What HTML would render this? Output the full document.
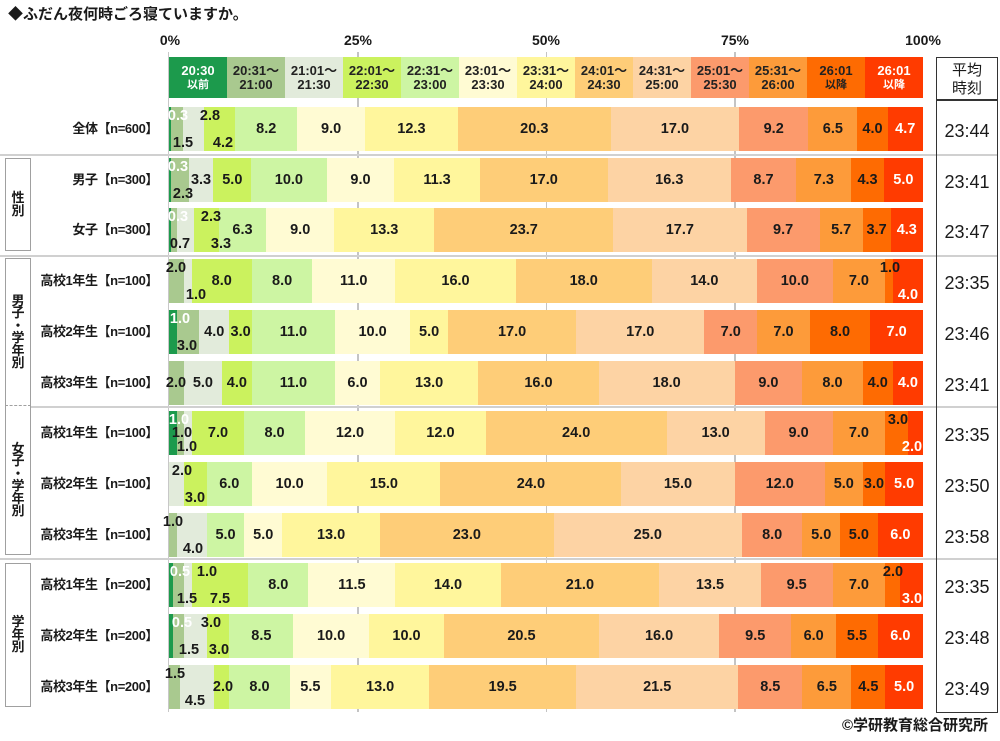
<!DOCTYPE html>
<html><head><meta charset="utf-8">
<style>
*{margin:0;padding:0;box-sizing:border-box}
body{width:1000px;height:741px;background:#fff;position:relative;overflow:hidden;font-family:"Liberation Sans","Noto Sans CJK JP",sans-serif;color:#1a1a1a}
.a{position:absolute}
.row{position:absolute;left:169px;width:754px;height:44px}
.s{position:absolute;top:0;height:44px;display:flex;align-items:center;justify-content:center;white-space:nowrap;font-size:14.5px;font-weight:bold;color:#1a1a1a}
.l{position:absolute;transform:translateX(-50%);font-size:14.5px;font-weight:bold;color:#1a1a1a;line-height:16px;white-space:nowrap}
.t{top:1px}.b{top:28px}.m{top:14px}
.w{color:#fff !important}
.c0{background:#1c9a4c;box-shadow:1px 0 0 #1c9a4c}.c1{background:#a9c98f;box-shadow:1px 0 0 #a9c98f}.c2{background:#e2ebdb;box-shadow:1px 0 0 #e2ebdb}.c3{background:#cbf25e;box-shadow:1px 0 0 #cbf25e}.c4{background:#cdf5a3;box-shadow:1px 0 0 #cdf5a3}.c5{background:#fffbd3;box-shadow:1px 0 0 #fffbd3}.c6{background:#fff69c;box-shadow:1px 0 0 #fff69c}.c7{background:#fecd78;box-shadow:1px 0 0 #fecd78}.c8{background:#fdd3a4;box-shadow:1px 0 0 #fdd3a4}.c9{background:#fc9a6c;box-shadow:1px 0 0 #fc9a6c}.c10{background:#fd9b3a;box-shadow:1px 0 0 #fd9b3a}.c11{background:#fe6b02;box-shadow:1px 0 0 #fe6b02}.c12{background:#ff3b00}
.h{position:absolute;top:57px;height:41px;width:58px;display:flex;flex-direction:column;align-items:center;justify-content:center;font-size:13px;font-weight:bold;line-height:14px;color:#222;white-space:nowrap}
.h small{font-size:11px}
.lab{position:absolute;right:842px;height:44px;line-height:44px;font-size:13px;font-weight:bold;letter-spacing:-0.4px;white-space:nowrap;text-align:right}
.tm{position:absolute;left:936px;width:62px;text-align:center;font-size:18px;line-height:20px;color:#1a1a1a}
.pct{position:absolute;top:32px;font-size:14px;font-weight:bold;transform:translateX(-50%);line-height:16px}
.gbox{position:absolute;left:5px;width:26px;border:1px solid #a0a0a0;display:flex;align-items:center;justify-content:center}
.vt{display:block;text-align:center;font-size:13px;font-weight:bold;line-height:12.5px;width:26px}
.hl{position:absolute;height:1.5px;background:#d0d0d0}
.vl{position:absolute;width:1.5px;background:#c4c4c4;top:52px;height:660px}
</style></head><body>

<div class="a" style="left:8px;top:5px;font-size:15px;font-weight:bold;line-height:20px;white-space:nowrap">◆ふだん夜何時ごろ寝ていますか。</div>

<div class="pct" style="left:170px">0%</div>
<div class="pct" style="left:358px">25%</div>
<div class="pct" style="left:546px">50%</div>
<div class="pct" style="left:735px">75%</div>
<div class="pct" style="left:923px">100%</div>

<!-- grid -->
<div class="vl" style="left:167.5px;background:#c8c8c8;width:1px"></div>
<div class="vl" style="left:357px"></div>
<div class="vl" style="left:545.5px"></div>
<div class="vl" style="left:734px"></div>
<div class="hl" style="left:0;width:998px;top:154px"></div>
<div class="hl" style="left:0;width:998px;top:255px"></div>
<div class="hl" style="left:31px;width:967px;top:406px"></div>
<div class="hl" style="left:0;width:998px;top:558px"></div>

<!-- header -->
<div class="h c0" style="left:169px;color:#fff">20:30<small>以前</small></div>
<div class="h c1" style="left:227px">20:31～<span>21:00</span></div>
<div class="h c2" style="left:285px">21:01～<span>21:30</span></div>
<div class="h c3" style="left:343px">22:01～<span>22:30</span></div>
<div class="h c4" style="left:401px">22:31～<span>23:00</span></div>
<div class="h c5" style="left:459px">23:01～<span>23:30</span></div>
<div class="h c6" style="left:517px">23:31～<span>24:00</span></div>
<div class="h c7" style="left:575px">24:01～<span>24:30</span></div>
<div class="h c8" style="left:633px">24:31～<span>25:00</span></div>
<div class="h c9" style="left:691px">25:01～<span>25:30</span></div>
<div class="h c10" style="left:749px">25:31～<span>26:00</span></div>
<div class="h c11" style="left:807px">26:01<small>以降</small></div>
<div class="h c12" style="left:865px;color:#fff">26:01<small>以降</small></div>

<!-- group boxes -->
<div class="gbox" style="top:158px;height:93px"><span class="vt">性<br>別</span></div>
<div class="gbox" style="top:258px;height:148px;border-bottom:1px dashed #a0a0a0"><span class="vt">男<br>子<br>・<br>学<br>年<br>別</span></div>
<div class="gbox" style="top:406px;height:149px;border-top:none"><span class="vt">女<br>子<br>・<br>学<br>年<br>別</span></div>
<div class="gbox" style="top:563px;height:144px"><span class="vt">学<br>年<br>別</span></div>

<!-- row labels -->
<div class="lab" style="top:107px">全体【n=600】</div>
<div class="lab" style="top:157.7px">男子【n=300】</div>
<div class="lab" style="top:208.4px">女子【n=300】</div>
<div class="lab" style="top:259.1px">高校1年生【n=100】</div>
<div class="lab" style="top:309.8px">高校2年生【n=100】</div>
<div class="lab" style="top:360.5px">高校3年生【n=100】</div>
<div class="lab" style="top:411.2px">高校1年生【n=100】</div>
<div class="lab" style="top:461.9px">高校2年生【n=100】</div>
<div class="lab" style="top:512.6px">高校3年生【n=100】</div>
<div class="lab" style="top:563.3px">高校1年生【n=200】</div>
<div class="lab" style="top:614px">高校2年生【n=200】</div>
<div class="lab" style="top:664.7px">高校3年生【n=200】</div>

<!-- Row 1 -->
<div class="row" style="top:107px">
<div class="s c0" style="left:0;width:2.26px"></div>
<div class="s c1" style="left:2.26px;width:11.31px"></div>
<div class="s c2" style="left:13.57px;width:21.11px"></div>
<div class="s c3" style="left:34.68px;width:31.67px"></div>
<div class="s c4" style="left:66.35px;width:61.83px">8.2</div>
<div class="s c5" style="left:128.18px;width:67.86px">9.0</div>
<div class="s c6" style="left:196.04px;width:92.74px">12.3</div>
<div class="s c7" style="left:288.78px;width:153.06px">20.3</div>
<div class="s c8" style="left:441.84px;width:128.18px">17.0</div>
<div class="s c9" style="left:570.02px;width:69.37px">9.2</div>
<div class="s c10" style="left:639.39px;width:49.01px">6.5</div>
<div class="s c11" style="left:688.4px;width:30.16px">4.0</div>
<div class="s c12 w" style="left:718.56px;width:35.44px">4.7</div>
<span class="l t w" style="left:9px">0.3</span>
<span class="l b" style="left:14px">1.5</span>
<span class="l t" style="left:41px">2.8</span>
<span class="l b" style="left:54px">4.2</span>
</div>

<!-- Row 2 -->
<div class="row" style="top:157.7px">
<div class="s c0" style="left:0;width:2.26px"></div>
<div class="s c1" style="left:2.26px;width:17.34px"></div>
<div class="s c2" style="left:19.6px;width:24.89px">3.3</div>
<div class="s c3" style="left:44.49px;width:37.7px">5.0</div>
<div class="s c4" style="left:82.19px;width:75.4px">10.0</div>
<div class="s c5" style="left:157.59px;width:67.86px">9.0</div>
<div class="s c6" style="left:225.45px;width:85.2px">11.3</div>
<div class="s c7" style="left:310.65px;width:128.18px">17.0</div>
<div class="s c8" style="left:438.83px;width:122.9px">16.3</div>
<div class="s c9" style="left:561.73px;width:65.6px">8.7</div>
<div class="s c10" style="left:627.33px;width:55.04px">7.3</div>
<div class="s c11" style="left:682.37px;width:32.42px">4.3</div>
<div class="s c12 w" style="left:714.79px;width:39.21px">5.0</div>
<span class="l t w" style="left:9px">0.3</span>
<span class="l b" style="left:14px">2.3</span>
</div>

<!-- Row 3 -->
<div class="row" style="top:208.4px">
<div class="s c0" style="left:0;width:2.26px"></div>
<div class="s c1" style="left:2.26px;width:5.28px"></div>
<div class="s c2" style="left:7.54px;width:17.34px"></div>
<div class="s c3" style="left:24.88px;width:24.88px"></div>
<div class="s c4" style="left:49.76px;width:47.51px">6.3</div>
<div class="s c5" style="left:97.27px;width:67.86px">9.0</div>
<div class="s c6" style="left:165.13px;width:100.28px">13.3</div>
<div class="s c7" style="left:265.41px;width:178.7px">23.7</div>
<div class="s c8" style="left:444.11px;width:133.45px">17.7</div>
<div class="s c9" style="left:577.56px;width:73.14px">9.7</div>
<div class="s c10" style="left:650.7px;width:42.98px">5.7</div>
<div class="s c11" style="left:693.68px;width:27.9px">3.7</div>
<div class="s c12 w" style="left:721.58px;width:32.42px">4.3</div>
<span class="l t w" style="left:9px">0.3</span>
<span class="l b" style="left:11px">0.7</span>
<span class="l t" style="left:42px">2.3</span>
<span class="l b" style="left:52px">3.3</span>
</div>

<!-- Row 4 -->
<div class="row" style="top:259.1px">
<div class="s c1" style="left:0;width:15.08px"></div>
<div class="s c2" style="left:15.08px;width:7.54px"></div>
<div class="s c3" style="left:22.62px;width:60.32px">8.0</div>
<div class="s c4" style="left:82.94px;width:60.32px">8.0</div>
<div class="s c5" style="left:143.26px;width:82.94px">11.0</div>
<div class="s c6" style="left:226.2px;width:120.64px">16.0</div>
<div class="s c7" style="left:346.84px;width:135.72px">18.0</div>
<div class="s c8" style="left:482.56px;width:105.56px">14.0</div>
<div class="s c9" style="left:588.12px;width:75.4px">10.0</div>
<div class="s c10" style="left:663.52px;width:52.78px">7.0</div>
<div class="s c11" style="left:716.3px;width:7.54px"></div>
<div class="s c12" style="left:723.84px;width:30.16px"></div>
<span class="l t" style="left:7px">2.0</span>
<span class="l b" style="left:27px">1.0</span>
<span class="l t" style="left:721px">1.0</span>
<span class="l b w" style="left:739px">4.0</span>
</div>

<!-- Row 5 -->
<div class="row" style="top:309.8px">
<div class="s c0" style="left:0;width:7.54px"></div>
<div class="s c1" style="left:7.54px;width:22.62px"></div>
<div class="s c2" style="left:30.16px;width:30.16px">4.0</div>
<div class="s c3" style="left:60.32px;width:22.62px">3.0</div>
<div class="s c4" style="left:82.94px;width:82.94px">11.0</div>
<div class="s c5" style="left:165.88px;width:75.4px">10.0</div>
<div class="s c6" style="left:241.28px;width:37.7px">5.0</div>
<div class="s c7" style="left:278.98px;width:128.18px">17.0</div>
<div class="s c8" style="left:407.16px;width:128.18px">17.0</div>
<div class="s c9" style="left:535.34px;width:52.78px">7.0</div>
<div class="s c10" style="left:588.12px;width:52.78px">7.0</div>
<div class="s c11" style="left:640.9px;width:60.32px">8.0</div>
<div class="s c12 w" style="left:701.22px;width:52.78px">7.0</div>
<span class="l t w" style="left:11px">1.0</span>
<span class="l b" style="left:18px">3.0</span>
</div>

<!-- Row 6 -->
<div class="row" style="top:360.5px">
<div class="s c1" style="left:0;width:15.08px"></div>
<div class="s c2" style="left:15.08px;width:37.7px">5.0</div>
<div class="s c3" style="left:52.78px;width:30.16px">4.0</div>
<div class="s c4" style="left:82.94px;width:82.94px">11.0</div>
<div class="s c5" style="left:165.88px;width:45.24px">6.0</div>
<div class="s c6" style="left:211.12px;width:98.02px">13.0</div>
<div class="s c7" style="left:309.14px;width:120.64px">16.0</div>
<div class="s c8" style="left:429.78px;width:135.72px">18.0</div>
<div class="s c9" style="left:565.5px;width:67.86px">9.0</div>
<div class="s c10" style="left:633.36px;width:60.32px">8.0</div>
<div class="s c11" style="left:693.68px;width:30.16px">4.0</div>
<div class="s c12 w" style="left:723.84px;width:30.16px">4.0</div>
<span class="l m" style="left:7px">2.0</span>
</div>

<!-- Row 7 -->
<div class="row" style="top:411.2px">
<div class="s c0" style="left:0;width:7.54px"></div>
<div class="s c1" style="left:7.54px;width:7.54px"></div>
<div class="s c2" style="left:15.08px;width:7.54px"></div>
<div class="s c3" style="left:22.62px;width:52.78px">7.0</div>
<div class="s c4" style="left:75.4px;width:60.32px">8.0</div>
<div class="s c5" style="left:135.72px;width:90.48px">12.0</div>
<div class="s c6" style="left:226.2px;width:90.48px">12.0</div>
<div class="s c7" style="left:316.68px;width:180.96px">24.0</div>
<div class="s c8" style="left:497.64px;width:98.02px">13.0</div>
<div class="s c9" style="left:595.66px;width:67.86px">9.0</div>
<div class="s c10" style="left:663.52px;width:52.78px">7.0</div>
<div class="s c11" style="left:716.3px;width:22.62px"></div>
<div class="s c12" style="left:738.92px;width:15.08px"></div>
<span class="l t w" style="left:10px">1.0</span>
<span class="l m" style="left:13px">1.0</span>
<span class="l b" style="left:18px">1.0</span>
<span class="l t" style="left:729px">3.0</span>
<span class="l b w" style="left:743px">2.0</span>
</div>

<!-- Row 8 -->
<div class="row" style="top:461.9px">
<div class="s c2" style="left:0;width:15.08px"></div>
<div class="s c3" style="left:15.08px;width:22.62px"></div>
<div class="s c4" style="left:37.7px;width:45.24px">6.0</div>
<div class="s c5" style="left:82.94px;width:75.4px">10.0</div>
<div class="s c6" style="left:158.34px;width:113.1px">15.0</div>
<div class="s c7" style="left:271.44px;width:180.96px">24.0</div>
<div class="s c8" style="left:452.4px;width:113.1px">15.0</div>
<div class="s c9" style="left:565.5px;width:90.48px">12.0</div>
<div class="s c10" style="left:655.98px;width:37.7px">5.0</div>
<div class="s c11" style="left:693.68px;width:22.62px"></div>
<div class="s c12 w" style="left:716.3px;width:37.7px">5.0</div>
<span class="l t" style="left:13px">2.0</span>
<span class="l b" style="left:26px">3.0</span>
<span class="l m" style="left:705px">3.0</span>
</div>

<!-- Row 9 -->
<div class="row" style="top:512.6px">
<div class="s c1" style="left:0;width:7.54px"></div>
<div class="s c2" style="left:7.54px;width:30.16px"></div>
<div class="s c4" style="left:37.7px;width:37.7px">5.0</div>
<div class="s c5" style="left:75.4px;width:37.7px">5.0</div>
<div class="s c6" style="left:113.1px;width:98.02px">13.0</div>
<div class="s c7" style="left:211.12px;width:173.42px">23.0</div>
<div class="s c8" style="left:384.54px;width:188.5px">25.0</div>
<div class="s c9" style="left:573.04px;width:60.32px">8.0</div>
<div class="s c10" style="left:633.36px;width:37.7px">5.0</div>
<div class="s c11" style="left:671.06px;width:37.7px">5.0</div>
<div class="s c12 w" style="left:708.76px;width:45.24px">6.0</div>
<span class="l t" style="left:4px">1.0</span>
<span class="l b" style="left:24px">4.0</span>
</div>

<!-- Row 10 -->
<div class="row" style="top:563.3px">
<div class="s c0" style="left:0;width:3.77px"></div>
<div class="s c1" style="left:3.77px;width:11.31px"></div>
<div class="s c2" style="left:15.08px;width:7.54px"></div>
<div class="s c3" style="left:22.62px;width:56.55px"></div>
<div class="s c4" style="left:79.17px;width:60.32px">8.0</div>
<div class="s c5" style="left:139.49px;width:86.71px">11.5</div>
<div class="s c6" style="left:226.2px;width:105.56px">14.0</div>
<div class="s c7" style="left:331.76px;width:158.34px">21.0</div>
<div class="s c8" style="left:490.1px;width:101.79px">13.5</div>
<div class="s c9" style="left:591.89px;width:71.63px">9.5</div>
<div class="s c10" style="left:663.52px;width:52.78px">7.0</div>
<div class="s c11" style="left:716.3px;width:15.08px"></div>
<div class="s c12" style="left:731.38px;width:22.62px"></div>
<span class="l t w" style="left:11px">0.5</span>
<span class="l b" style="left:18px">1.5</span>
<span class="l t" style="left:38px">1.0</span>
<span class="l b" style="left:51px">7.5</span>
<span class="l t" style="left:724px">2.0</span>
<span class="l b w" style="left:743px">3.0</span>
</div>

<!-- Row 11 -->
<div class="row" style="top:614px">
<div class="s c0" style="left:0;width:3.77px"></div>
<div class="s c1" style="left:3.77px;width:11.31px"></div>
<div class="s c2" style="left:15.08px;width:22.62px"></div>
<div class="s c3" style="left:37.7px;width:22.62px"></div>
<div class="s c4" style="left:60.32px;width:64.09px">8.5</div>
<div class="s c5" style="left:124.41px;width:75.4px">10.0</div>
<div class="s c6" style="left:199.81px;width:75.4px">10.0</div>
<div class="s c7" style="left:275.21px;width:154.57px">20.5</div>
<div class="s c8" style="left:429.78px;width:120.64px">16.0</div>
<div class="s c9" style="left:550.42px;width:71.63px">9.5</div>
<div class="s c10" style="left:622.05px;width:45.24px">6.0</div>
<div class="s c11" style="left:667.29px;width:41.47px">5.5</div>
<div class="s c12 w" style="left:708.76px;width:45.24px">6.0</div>
<span class="l t w" style="left:13px">0.5</span>
<span class="l b" style="left:20px">1.5</span>
<span class="l t" style="left:42px">3.0</span>
<span class="l b" style="left:50px">3.0</span>
</div>

<!-- Row 12 -->
<div class="row" style="top:664.7px">
<div class="s c1" style="left:0;width:11.31px"></div>
<div class="s c2" style="left:11.31px;width:33.93px"></div>
<div class="s c3" style="left:45.24px;width:15.08px"></div>
<div class="s c4" style="left:60.32px;width:60.32px">8.0</div>
<div class="s c5" style="left:120.64px;width:41.47px">5.5</div>
<div class="s c6" style="left:162.11px;width:98.02px">13.0</div>
<div class="s c7" style="left:260.13px;width:147.03px">19.5</div>
<div class="s c8" style="left:407.16px;width:162.11px">21.5</div>
<div class="s c9" style="left:569.27px;width:64.09px">8.5</div>
<div class="s c10" style="left:633.36px;width:49.01px">6.5</div>
<div class="s c11" style="left:682.37px;width:33.93px">4.5</div>
<div class="s c12 w" style="left:716.3px;width:37.7px">5.0</div>
<span class="l t" style="left:6px">1.5</span>
<span class="l b" style="left:26px">4.5</span>
<span class="l m" style="left:54px">2.0</span>
</div>

<!-- average box -->
<div class="a" style="left:936px;top:57px;width:62px;height:656px;border:1.5px solid #333;background:transparent"></div>
<div class="a" style="left:936px;top:99px;width:62px;height:1.5px;background:#333"></div>
<div class="a" style="left:936px;top:62px;width:62px;text-align:center;font-size:15px;line-height:18px">平均<br>時刻</div>
<div class="tm" style="top:121px">23:44</div>
<div class="tm" style="top:171.7px">23:41</div>
<div class="tm" style="top:222.4px">23:47</div>
<div class="tm" style="top:273.1px">23:35</div>
<div class="tm" style="top:323.8px">23:46</div>
<div class="tm" style="top:374.5px">23:41</div>
<div class="tm" style="top:425.2px">23:35</div>
<div class="tm" style="top:475.9px">23:50</div>
<div class="tm" style="top:526.6px">23:58</div>
<div class="tm" style="top:577.3px">23:35</div>
<div class="tm" style="top:628px">23:48</div>
<div class="tm" style="top:678.7px">23:49</div>

<div class="a" style="right:12px;top:717px;font-size:15px;font-weight:bold;line-height:18px;white-space:nowrap">©学研教育総合研究所</div>
</body></html>
